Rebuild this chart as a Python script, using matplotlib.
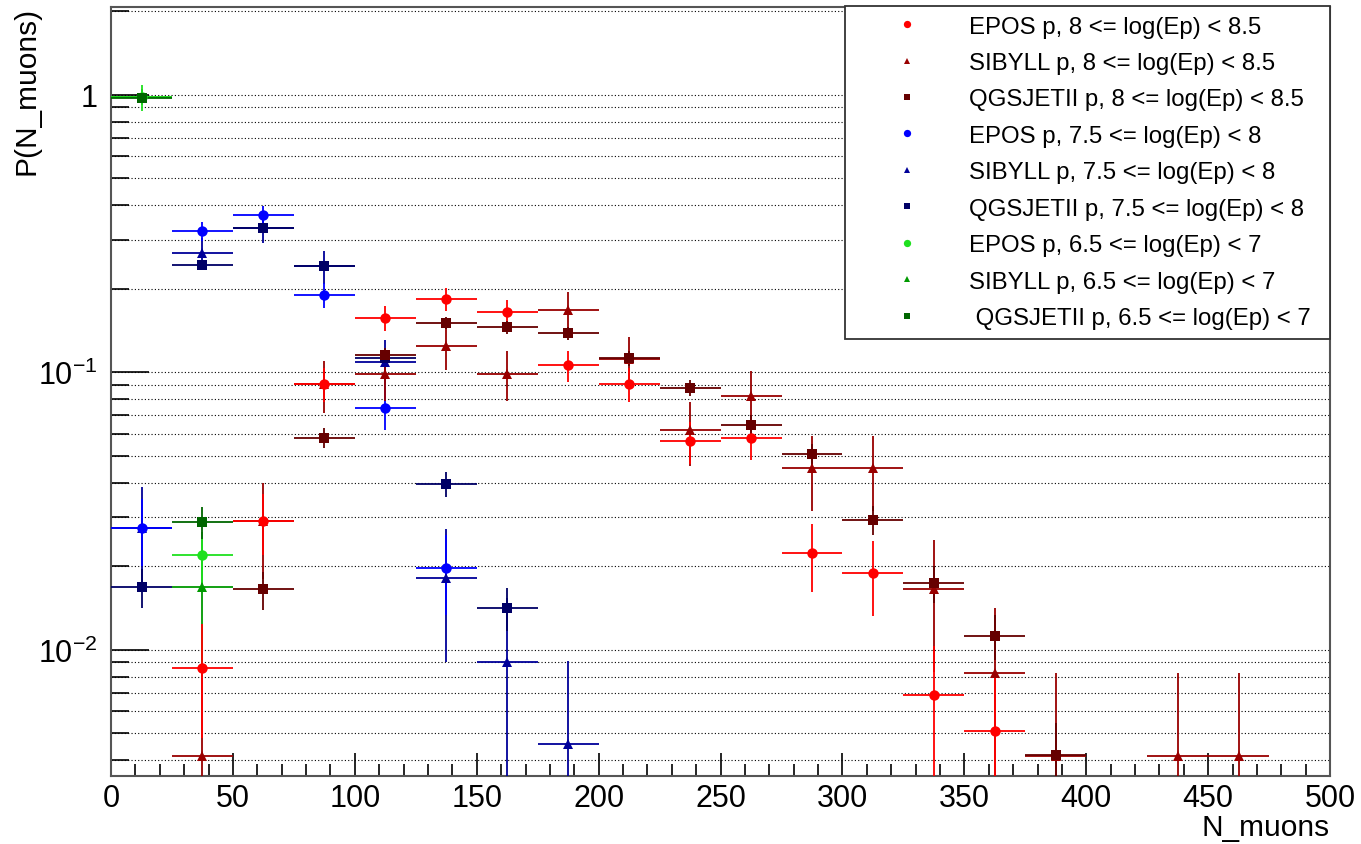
import math
import matplotlib
matplotlib.use("Agg")
import matplotlib.pyplot as plt
from matplotlib.lines import Line2D
from matplotlib.ticker import LogLocator, MultipleLocator, NullFormatter, FuncFormatter

# ----------------------------
# Datos
# ----------------------------
BIN_HALF = 12.5  # medio ancho del bin en N_muons

# 8 <= log(Ep) < 8.5
epos_85_x = [37.5, 62.5, 87.5, 112.5, 137.5, 162.5, 187.5, 212.5, 237.5, 262.5, 287.5, 312.5, 337.5, 362.5]
epos_85_y = [0.0086, 0.0291, 0.0908, 0.157, 0.184, 0.165, 0.106, 0.0908, 0.0565, 0.058, 0.0223, 0.0189, 0.0069, 0.0051]
epos_85_e = [0.0038, 0.0072, 0.0124, 0.0165, 0.018, 0.0168, 0.0134, 0.0124, 0.0098, 0.0099, 0.0061, 0.0057, 0.0034, 0.0029]

sib_85_x = [37.5, 62.5, 87.5, 112.5, 137.5, 162.5, 187.5, 212.5, 237.5, 262.5, 287.5, 312.5, 337.5, 362.5, 387.5, 437.5, 462.5]
sib_85_y = [0.00414, 0.029, 0.0908, 0.0989, 0.1244, 0.0989, 0.168, 0.112, 0.062, 0.0824, 0.0452, 0.0452, 0.0166, 0.00826, 0.00414, 0.00414, 0.00414]
sib_85_e = [0.00414, 0.011, 0.0194, 0.0202, 0.0227, 0.0202, 0.0264, 0.0215, 0.016, 0.0185, 0.0137, 0.0137, 0.0083, 0.00585, 0.00414, 0.00414, 0.00414]

qgs_85_x = [62.5, 87.5, 112.5, 137.5, 162.5, 187.5, 212.5, 237.5, 262.5, 287.5, 312.5, 337.5, 362.5, 387.5]
qgs_85_y = [0.0165, 0.0581, 0.1154, 0.1505, 0.1456, 0.1386, 0.1125, 0.088, 0.0648, 0.0508, 0.0294, 0.0174, 0.01125, 0.00416]
qgs_85_e = [0.0026, 0.0049, 0.0068, 0.0078, 0.0077, 0.0075, 0.0068, 0.006, 0.0051, 0.0045, 0.0035, 0.0027, 0.0021, 0.0013]

# 7.5 <= log(Ep) < 8
epos_80_x = [12.5, 37.5, 62.5, 87.5, 112.5, 137.5]
epos_80_y = [0.0275, 0.3236, 0.3686, 0.190, 0.0743, 0.0197]
epos_80_e = [0.0074, 0.0255, 0.0272, 0.0195, 0.0122, 0.0063]

sib_80_x = [12.5, 37.5, 62.5, 87.5, 112.5, 137.5, 162.5, 187.5]
sib_80_y = [0.0275, 0.269, 0.33, 0.2414, 0.1089, 0.0181, 0.00903, 0.00458]
sib_80_e = [0.0112, 0.035, 0.0388, 0.0331, 0.0223, 0.0091, 0.0064, 0.00456]

qgs_80_x = [12.5, 37.5, 62.5, 87.5, 112.5, 137.5, 162.5]
qgs_80_y = [0.01685, 0.244, 0.331, 0.2414, 0.113, 0.0396, 0.01415]
qgs_80_e = [0.0027, 0.0104, 0.012, 0.0103, 0.007, 0.0042, 0.0025]

# 6.5 <= log(Ep) < 7
epos_70_x = [12.5, 37.5]
epos_70_y = [0.978, 0.022]
epos_70_e = [0.105, 0.0046]

sib_70_x = [12.5, 37.5]
sib_70_y = [0.983, 0.0168]
sib_70_e = [0.063, 0.0082]

qgs_70_x = [12.5, 37.5]
qgs_70_y = [0.971, 0.0289]
qgs_70_e = [0.02, 0.0038]

# (etiqueta, x, y, err, marcador, color, tamaño)
series = {
    "epos_85": ("EPOS p, 8 <= log(Ep) < 8.5", epos_85_x, epos_85_y, epos_85_e, "o", "#ff0000", 7.5),
    "sib_85": ("SIBYLL p, 8 <= log(Ep) < 8.5", sib_85_x, sib_85_y, sib_85_e, "^", "#990000", 6.5),
    "qgs_85": ("QGSJETII p, 8 <= log(Ep) < 8.5", qgs_85_x, qgs_85_y, qgs_85_e, "s", "#660000", 7),
    "epos_80": ("EPOS p, 7.5 <= log(Ep) < 8", epos_80_x, epos_80_y, epos_80_e, "o", "#0000ff", 7.5),
    "sib_80": ("SIBYLL p, 7.5 <= log(Ep) < 8", sib_80_x, sib_80_y, sib_80_e, "^", "#000099", 6.5),
    "qgs_80": ("QGSJETII p, 7.5 <= log(Ep) < 8", qgs_80_x, qgs_80_y, qgs_80_e, "s", "#000066", 7),
    "epos_70": ("EPOS p, 6.5 <= log(Ep) < 7", epos_70_x, epos_70_y, epos_70_e, "o", "#1fe01f", 7.5),
    "sib_70": ("SIBYLL p, 6.5 <= log(Ep) < 7", sib_70_x, sib_70_y, sib_70_e, "^", "#009900", 6.5),
    "qgs_70": (" QGSJETII p, 6.5 <= log(Ep) < 7", qgs_70_x, qgs_70_y, qgs_70_e, "s", "#006600", 7),
}

legend_order = ["epos_85", "sib_85", "qgs_85", "epos_80", "sib_80", "qgs_80", "epos_70", "sib_70", "qgs_70"]
draw_order = ["sib_70", "epos_70", "qgs_70", "sib_80", "epos_80", "qgs_80", "sib_85", "epos_85", "qgs_85"]

# ----------------------------
# Figura
# ----------------------------
plt.rcParams["font.family"] = ["Liberation Sans", "DejaVu Sans"]
plt.rcParams["mathtext.fontset"] = "custom"
plt.rcParams["mathtext.rm"] = "Liberation Sans"
plt.rcParams["mathtext.default"] = "regular"

fig = plt.figure(figsize=(13.61, 8.45), dpi=100)
ax = fig.add_axes([0.0816, 0.0805, 0.8957, 0.9100])

for key in draw_order:
    label, xs, ys, es, mk, col, ms = series[key]
    ax.errorbar(xs, ys, xerr=BIN_HALF, yerr=es, fmt=mk, color=col, ecolor=col,
                ms=ms, mew=0, elinewidth=1.3, capsize=2.5, capthick=1.3, zorder=3)

ax.set_yscale("log")
ax.set_xlim(0, 500)
ax.set_ylim(0.00351, 2.07)

ax.xaxis.set_major_locator(MultipleLocator(50))
ax.xaxis.set_minor_locator(MultipleLocator(10))
ax.yaxis.set_major_locator(LogLocator(base=10))
ax.yaxis.set_minor_locator(LogLocator(base=10, subs=range(2, 10)))
ax.yaxis.set_minor_formatter(NullFormatter())
ax.yaxis.set_major_formatter(FuncFormatter(
    lambda v, p: "1" if abs(v - 1) < 1e-9 else r"$10^{%d}$" % round(math.log10(v))))

ax.tick_params(axis="both", which="both", direction="in", top=False, right=False,
               width=1.2, color="black", labelsize=22)
ax.tick_params(axis="x", which="major", length=16.5, pad=5)
ax.tick_params(axis="x", which="minor", length=8.5)
ax.tick_params(axis="y", which="major", length=27, pad=10)
ax.tick_params(axis="y", which="minor", length=13)

ax.yaxis.grid(True, which="both", ls=(0, (1, 2)), lw=0.8, color="black")
ax.xaxis.grid(False)
ax.set_axisbelow(True)
for sp in ax.spines.values():
    sp.set_color("#555555")
    sp.set_linewidth(1.5)

fig.text(27 / 1361, 1 - 7 / 845, "P(N_muons)", rotation=90, ha="center", va="top", fontsize=21.5)
fig.text(1330 / 1361, 1 - 836 / 845, "N_muons", ha="right", va="baseline", fontsize=21.5)

handles = []
for key in legend_order:
    label, xs, ys, es, mk, col, ms = series[key]
    handles.append(Line2D([], [], marker=mk, color=col, ls="none", ms=ms * 0.7, mew=0, label=label))

leg = ax.legend(handles=handles, loc="upper left", mode="expand",
                bbox_to_anchor=(845 / 1361, 1 - 340 / 845, 485 / 1361, 333 / 845),
                bbox_transform=fig.transFigure, borderaxespad=0, fontsize=17.3,
                borderpad=0.4, labelspacing=0.6, handlelength=4.4, handletextpad=0.35,
                fancybox=False, framealpha=1, edgecolor="#333333")
leg.get_frame().set_linewidth(1.3)
leg.set_zorder(10)

fig.savefig("out.png", dpi=100)
